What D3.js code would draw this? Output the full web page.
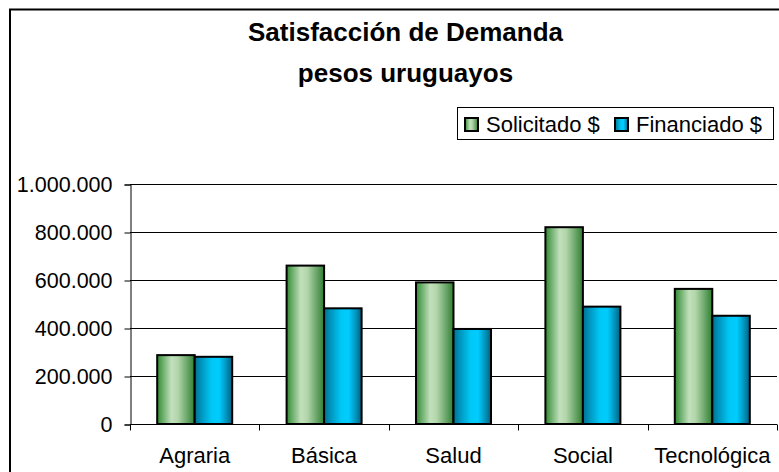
<!DOCTYPE html>
<html><head><meta charset="utf-8">
<script src="https://cdn.jsdelivr.net/npm/d3@7"></script>
<style>html,body{margin:0;padding:0;background:#fff;}svg{display:block;font-family:Arial,"Liberation Sans",sans-serif;}</style>
</head><body><div id="chart"></div>
<script>
const categories = ["Agraria","Básica","Salud","Social","Tecnológica"];
const solicitado = [287000, 660000, 590000, 820000, 563000];
const financiado = [280000, 482000, 396000, 489000, 451000];
const seriesNames = ["Solicitado $","Financiado $"];
const yTicks = [0,200000,400000,600000,800000,1000000];
const titleLines = ["Satisfacción de Demanda","pesos uruguayos"];

const W = 779, H = 472;
const svg = d3.select("#chart").append("svg").attr("width",W).attr("height",H);
const defs = svg.append("defs");
function grad(id, stops){
  const g = defs.append("linearGradient").attr("id",id).attr("x1","0%").attr("x2","100%").attr("y1","0%").attr("y2","0%");
  stops.forEach(s=>g.append("stop").attr("offset",s[0]).attr("stop-color",s[1]));
}
grad("gGreen",[["0%","#2f8a2f"],["12%","#5fa65f"],["38%","#c2e0bc"],["55%","#b2d6aa"],["80%","#6aa66a"],["100%","#2f7f2f"]]);
grad("gBlue",[["0%","#006f8f"],["15%","#0090b8"],["45%","#00c8f5"],["65%","#00ccff"],["85%","#0092ba"],["100%","#005f7f"]]);

// outer border
svg.append("rect").attr("x",10).attr("y",9.5).attr("width",W+20).attr("height",H+20)
  .attr("fill","none").attr("stroke","#000").attr("stroke-width",2);

const fmt = d => d3.format(",")(d).replace(/,/g,".");

const x = d3.scaleBand().domain(categories).range([130,777]).paddingInner(0).paddingOuter(0);
const y = d3.scaleLinear().domain([0,1000000]).range([424,184]);
const x1 = d3.scaleBand().domain(seriesNames).range([0,x.bandwidth()]).paddingInner(0).paddingOuter(0.725);

// gridlines
svg.append("g").selectAll("line").data(yTicks.slice(1)).join("line")
  .attr("x1",130).attr("x2",777).attr("y1",d=>Math.round(y(d))+0.5).attr("y2",d=>Math.round(y(d))+0.5)
  .attr("stroke","#000").attr("stroke-width",1);

// y axis
const yAxis = svg.append("g").attr("transform","translate(130.5,0.5)")
  .call(d3.axisLeft(y).tickValues(yTicks).tickFormat(fmt).tickSize(6).tickPadding(12));
yAxis.select(".domain").attr("stroke","#000");
yAxis.selectAll(".tick line").attr("stroke","#000");
yAxis.selectAll(".tick text").attr("font-size",21.5).attr("fill","#000").attr("font-family","Arial, 'Liberation Sans', sans-serif");

// x axis
const xAxis = svg.append("g").attr("transform","translate(0,424.5)");
xAxis.append("line").attr("x1",130).attr("x2",777).attr("stroke","#000");
const bounds = categories.map(c=>x(c)).concat([x(categories[categories.length-1])+x.bandwidth()]);
xAxis.selectAll(".tk").data(bounds).join("line").attr("class","tk")
  .attr("x1",d=>Math.round(d)+0.5).attr("x2",d=>Math.round(d)+0.5).attr("y1",0).attr("y2",6).attr("stroke","#000");
xAxis.selectAll("text").data(categories).join("text")
  .attr("x",d=>x(d)+x.bandwidth()/2).attr("y",38).attr("text-anchor","middle")
  .attr("font-size",22).attr("fill","#000").text(d=>d);

// bars
const groups = svg.append("g").selectAll("g").data(categories).join("g")
  .attr("transform",d=>`translate(${x(d)},0)`);
groups.append("rect").attr("x",x1(seriesNames[0])).attr("width",x1.bandwidth())
  .attr("y",(d,i)=>y(solicitado[i])).attr("height",(d,i)=>y(0)-y(solicitado[i]))
  .attr("fill","url(#gGreen)").attr("stroke","#000").attr("stroke-width",2);
groups.append("rect").attr("x",x1(seriesNames[1])).attr("width",x1.bandwidth())
  .attr("y",(d,i)=>y(financiado[i])).attr("height",(d,i)=>y(0)-y(financiado[i]))
  .attr("fill","url(#gBlue)").attr("stroke","#000").attr("stroke-width",2);

// title
svg.append("g").selectAll("text").data(titleLines).join("text")
  .attr("x",405.5).attr("y",(d,i)=>41+i*41).attr("text-anchor","middle")
  .attr("font-size",26).attr("font-weight","bold").attr("fill","#000").text(d=>d);

// legend
const lg = svg.append("g");
lg.append("rect").attr("x",457.5).attr("y",107.5).attr("width",316).attr("height",32)
  .attr("fill","#fff").attr("stroke","#000").attr("stroke-width",1);
const legendX = [465,615];
const legendFill = ["url(#gGreen)","url(#gBlue)"];
seriesNames.forEach((s,i)=>{
  lg.append("rect").attr("x",legendX[i]).attr("y",118).attr("width",13).attr("height",13)
    .attr("fill",legendFill[i]).attr("stroke","#000").attr("stroke-width",2);
  lg.append("text").attr("x",legendX[i]+21).attr("y",132).attr("font-size",22).attr("fill","#000").text(s);
});
</script></body></html>
